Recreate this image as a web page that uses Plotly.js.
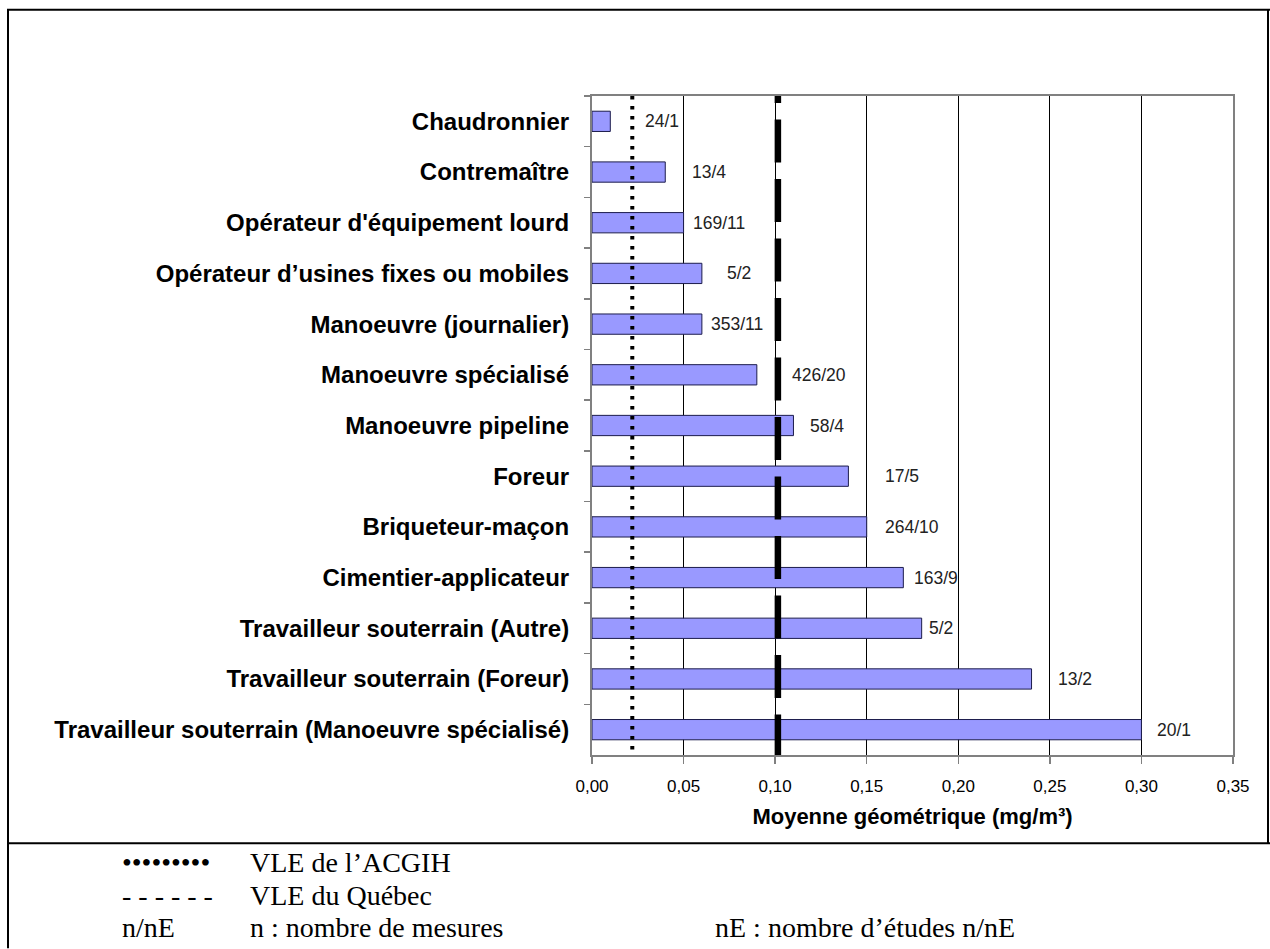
<!DOCTYPE html>
<html>
<head>
<meta charset="utf-8">
<script src="https://cdn.plot.ly/plotly-3.0.1.min.js"></script>
<style>html,body{margin:0;padding:0;background:#fff;}#chart{width:1270px;height:949px;}</style>
</head>
<body>
<div id="chart"></div>
<script>
// ---- data ----
const categories = [
  "Chaudronnier",
  "Contremaître",
  "Opérateur d'équipement lourd",
  "Opérateur d’usines fixes ou mobiles",
  "Manoeuvre (journalier)",
  "Manoeuvre spécialisé",
  "Manoeuvre pipeline",
  "Foreur",
  "Briqueteur-maçon",
  "Cimentier-applicateur",
  "Travailleur souterrain (Autre)",
  "Travailleur souterrain (Foreur)",
  "Travailleur souterrain (Manoeuvre spécialisé)"
];
const geoMeans = [0.01, 0.04, 0.05, 0.06, 0.06, 0.09, 0.11, 0.14, 0.15, 0.17, 0.18, 0.24, 0.30];
const countLabels = ["24/1", "13/4", "169/11", "5/2", "353/11", "426/20", "58/4", "17/5", "264/10", "163/9", "5/2", "13/2", "20/1"];
const vleACGIH = 0.022;
const vleQuebec = 0.1015;
const xTicks = [0, 0.05, 0.10, 0.15, 0.20, 0.25, 0.30, 0.35];

// ---- layout helpers (where each count label starts, in axis units) ----
const labelX = [0.0285, 0.054, 0.0545, 0.073, 0.0645, 0.1085, 0.1185, 0.1595, 0.1595, 0.1755, 0.1835, 0.254, 0.308];

const W = 1270, H = 949;
const ML = 592, MR = 37, MT = 95.5, MB = 193.5;
const PW = W - ML - MR, PH = H - MT - MB;
const px = v => (v - ML) / PW;
const py = v => (MT + PH - v) / PH;

const bar = {
  type: 'bar',
  orientation: 'h',
  y: categories,
  x: geoMeans,
  marker: {color: '#9999ff', line: {color: '#1c1c4c', width: 1}},
  hoverinfo: 'x+y'
};

const annotations = countLabels.map((t, i) => ({
  x: labelX[i], y: categories[i], xref: 'x', yref: 'y',
  text: t, showarrow: false, xanchor: 'left', yanchor: 'middle', borderpad: 0,
  font: {family: 'Liberation Sans, Arial, sans-serif', size: 17.5, color: '#222'}
}));

const legFont = {family: 'Liberation Serif, Times New Roman, serif', size: 28, color: '#000'};
const legendRows = [
  ["•••••••••", "VLE de l’ACGIH", ""],
  ["- - - - - -", "VLE du Québec", ""],
  ["n/nE", "n : nombre de mesures", "nE : nombre d’études n/nE"]
];
const rowY = [863, 896, 928];
const colX = [121, 249, 714];
legendRows.forEach((r, i) => {
  r.forEach((t, j) => {
    if (!t) return;
    annotations.push({
      x: px(colX[j]), y: py(rowY[i]), xref: 'paper', yref: 'paper',
      text: t, showarrow: false, xanchor: 'left', yanchor: 'middle', borderpad: 0,
      font: legFont
    });
  });
});

const frame = {color: '#000', width: 2};
const shapes = [
  // reference lines
  {type: 'line', xref: 'x', yref: 'y', x0: vleACGIH, x1: vleACGIH, y0: -0.5, y1: 12.5,
   line: {color: '#000', width: 4, dash: '3.5px,6.5px'}, layer: 'above'},
  {type: 'line', xref: 'x', yref: 'y', x0: vleQuebec, x1: vleQuebec, y0: -1.211, y1: 12.6,
   line: {color: '#000', width: 6.5, dash: '43px,16.5px'}, layer: 'above'},
  // page frame
  {type: 'line', xref: 'paper', yref: 'paper', x0: px(7), x1: px(1270), y0: py(9), y1: py(9), line: frame},
  {type: 'line', xref: 'paper', yref: 'paper', x0: px(8), x1: px(8), y0: py(9), y1: py(949), line: frame},
  {type: 'line', xref: 'paper', yref: 'paper', x0: px(1268), x1: px(1268), y0: py(9), y1: py(844), line: frame},
  {type: 'line', xref: 'paper', yref: 'paper', x0: px(7), x1: px(1270), y0: py(844), y1: py(844), line: frame}
];

const layout = {
  width: W, height: H,
  margin: {l: ML, r: MR, t: MT, b: MB, pad: 0},
  paper_bgcolor: '#fff', plot_bgcolor: '#fff',
  separators: ', ',
  showlegend: false,
  bargap: 0.6,
  font: {family: 'Liberation Sans, Arial, sans-serif', color: '#000'},
  xaxis: {
    range: [0, 0.35], tickvals: xTicks, tickformat: '.2f',
    ticks: 'outside', ticklen: 7, tickcolor: '#808080', tickwidth: 1.5,
    showline: true, linecolor: '#808080', linewidth: 2, mirror: true,
    showgrid: true, gridcolor: '#000', gridwidth: 1, zeroline: false,
    tickfont: {size: 17, color: '#000'},
    ticklabelstandoff: 8,
    title: {text: '<b>Moyenne géométrique (mg/m³)</b>', font: {size: 22, color: '#000'}, standoff: 13}
  },
  yaxis: {
    type: 'category', autorange: false, range: [12.5, -0.5],
    ticks: 'outside', ticklen: 6, tickcolor: '#808080', tickwidth: 1.5, tickson: 'boundaries',
    showline: true, linecolor: '#808080', linewidth: 2, mirror: true,
    showgrid: false, zeroline: false,
    tickfont: {size: 24, color: '#000', weight: 'bold'},
    ticklabelstandoff: 16
  },
  shapes: shapes,
  annotations: annotations
};

Plotly.newPlot('chart', [bar], layout, {displayModeBar: false, staticPlot: true});
</script>
</body>
</html>
